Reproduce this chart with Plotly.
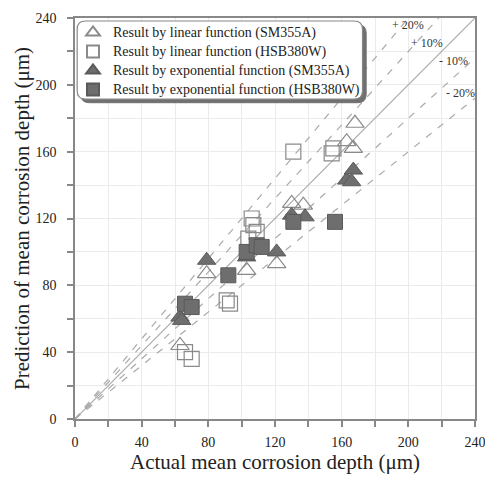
import plotly.graph_objects as go

# ---- data ----
lin_sm_x = [63, 79, 103, 121, 130, 137, 163, 167, 168]
lin_sm_y = [44, 87, 89, 93, 129, 128, 166, 162, 177]

lin_hsb_x = [66, 70, 91, 93, 104, 106, 107, 109, 131, 154, 155]
lin_hsb_y = [40, 36, 71, 69, 108, 120, 116, 112, 160, 159, 162]

exp_sm_x = [63, 64, 79, 103, 121, 130, 138, 163, 166, 167]
exp_sm_y = [61, 59, 95, 97, 100, 122, 121, 143, 142, 149]

exp_hsb_x = [66, 70, 92, 103, 109, 112, 131, 156]
exp_hsb_y = [69, 67, 86, 100, 104, 103, 118, 118]

series_names = ["Result by linear function (SM355A)",
                "Result by linear function (HSB380W)",
                "Result by exponential function (SM355A)",
                "Result by exponential function (HSB380W)"]

ratios = [1.2, 1.1, 0.9, 0.8]
ratio_labels = ["+ 20%", "+ 10%", "- 10%", "- 20%"]
label_pos = [(200, 236), (211, 225), (227, 214), (231, 195)]

AX_MAX = 240
FONT = "'Liberation Serif', 'Times New Roman', serif"

def legend_name(s):
    return f"<span style='font-size:14px'>{s}</span>"

fig = go.Figure()

# reference lines
fig.add_trace(go.Scatter(x=[0, AX_MAX], y=[0, AX_MAX], mode="lines",
                         line=dict(color="#aaaaaa", width=1.2), showlegend=False, hoverinfo="skip"))
for r in ratios:
    xe = min(AX_MAX, AX_MAX / r)
    fig.add_trace(go.Scatter(x=[0, xe], y=[0, xe * r], mode="lines",
                             line=dict(color="#aaaaaa", width=1.2, dash="7px,8px"),
                             showlegend=False, hoverinfo="skip"))

fig.add_trace(go.Scatter(x=lin_sm_x, y=lin_sm_y, mode="markers",
                         name=legend_name(series_names[0]),
                         marker=dict(symbol="triangle-up-open", size=16, color="#8a8a8a",
                                     line=dict(width=1.2))))
fig.add_trace(go.Scatter(x=lin_hsb_x, y=lin_hsb_y, mode="markers",
                         name=legend_name(series_names[1]),
                         marker=dict(symbol="square-open", size=15, color="#8a8a8a",
                                     line=dict(width=1.2))))
fig.add_trace(go.Scatter(x=exp_sm_x, y=exp_sm_y, mode="markers",
                         name=legend_name(series_names[2]),
                         marker=dict(symbol="triangle-up", size=16, color="#6e6e6e",
                                     line=dict(width=1, color="#5a5a5a"))))
fig.add_trace(go.Scatter(x=exp_hsb_x, y=exp_hsb_y, mode="markers",
                         name=legend_name(series_names[3]),
                         marker=dict(symbol="square", size=15, color="#6e6e6e",
                                     line=dict(width=1, color="#5a5a5a"))))

for txt, (tx, ty) in zip(ratio_labels, label_pos):
    fig.add_annotation(x=tx, y=ty, text=txt, showarrow=False,
                       font=dict(family=FONT, size=12, color="#333333"))

# rounded legend box with shadow
def rounded(x0, y0, x1, y1, rx, ry):
    return (f"M {x0+rx},{y1} L {x1-rx},{y1} Q {x1},{y1} {x1},{y1-ry} "
            f"L {x1},{y0+ry} Q {x1},{y0} {x1-rx},{y0} L {x0+rx},{y0} "
            f"Q {x0},{y0} {x0},{y0+ry} L {x0},{y1-ry} Q {x0},{y1} {x0+rx},{y1} Z")

bx0, by0, bx1, by1 = 1.3, 191.5, 172.5, 238.2
fig.add_shape(type="path", path=rounded(bx0 + 2.2, by0 - 2.2, bx1 + 2.2, by1 - 2.2, 5, 5),
              xref="x", yref="y", fillcolor="#707070", line=dict(color="#707070", width=1),
              layer="above")
fig.add_shape(type="path", path=rounded(bx0, by0, bx1, by1, 5, 5),
              xref="x", yref="y", fillcolor="white", line=dict(color="#888888", width=1.2),
              layer="above")

axis_common = dict(range=[0, AX_MAX], dtick=40, tick0=0, showgrid=True,
                   gridcolor="#ebebeb", gridwidth=1, showline=True, linecolor="#888888",
                   linewidth=1.5, mirror=True, ticks="outside", ticklen=6,
                   tickcolor="#888888", tickwidth=1.5, zeroline=False, automargin=False,
                   ticklabeloverflow="allow",
                   tickfont=dict(family=FONT, size=14, color="#222222"),
                   minor=dict(dtick=20, ticks="outside", ticklen=6, tickcolor="#888888",
                              showgrid=True, gridcolor="#ebebeb", gridwidth=1))

fig.update_xaxes(**axis_common, ticklabelstandoff=3,
                 title=dict(text="Actual mean corrosion depth (μm)",
                            font=dict(family=FONT, size=21, color="#222222"), standoff=2))
fig.update_yaxes(**axis_common, ticklabelstandoff=8,
                 title=dict(text="Prediction of mean corrosion depth (μm)",
                            font=dict(family=FONT, size=21, color="#222222"), standoff=0))

fig.update_layout(
    width=485, height=480,
    margin=dict(l=75, r=10, t=18, b=61),
    plot_bgcolor="white", paper_bgcolor="white",
    legend=dict(x=-0.005, y=1.0, xanchor="left", yanchor="top",
                bgcolor="rgba(0,0,0,0)", borderwidth=0,
                font=dict(family=FONT, size=12, color="#222222"),
                itemsizing="constant", tracegroupgap=0),
)

# remove the default page margin so the 485x480 figure fills the window exactly
fig.write_html("out.html", config={"displayModeBar": False},
               post_script="document.body.style.margin='0';document.body.style.overflow='hidden';")
